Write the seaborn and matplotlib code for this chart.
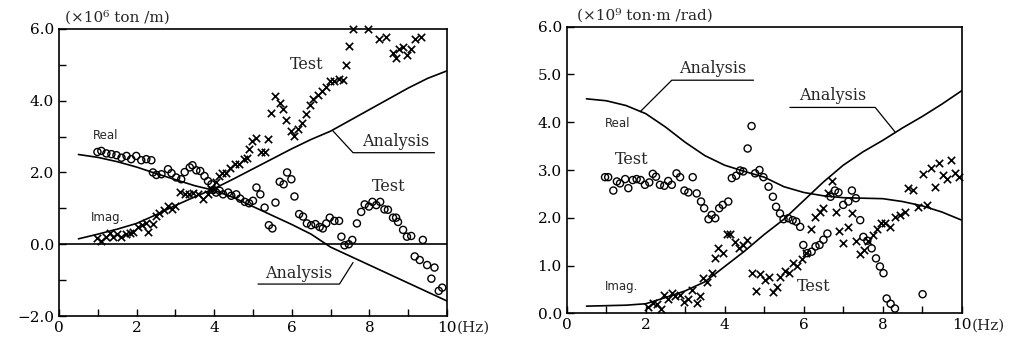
import matplotlib
matplotlib.use("Agg")
import matplotlib.pyplot as plt
import seaborn as sns

# ---------------- data: left panel (ton/m, x10^6) ----------------
ana_x = [0.5, 1.0, 1.5, 2.0, 2.5, 3.0, 3.5, 4.0, 4.5, 5.0,
         5.5, 6.0, 6.5, 7.0, 7.5, 8.0, 8.5, 9.0, 9.5, 10.0]
left_ana_real = [2.50, 2.42, 2.30, 2.15, 1.97, 1.80, 1.63, 1.50, 1.30, 1.05,
                 0.80, 0.55, 0.28, -0.08, -0.33, -0.58, -0.83, -1.08, -1.33, -1.58]
left_ana_imag = [0.15, 0.28, 0.42, 0.58, 0.82, 1.08, 1.32, 1.55, 1.82, 2.10,
                 2.38, 2.66, 2.92, 3.15, 3.45, 3.75, 4.05, 4.35, 4.62, 4.83]

left_real_x = [0.99, 1.09, 1.22, 1.35, 1.48, 1.61, 1.74, 1.86, 1.99, 2.12, 2.25, 2.38, 2.42, 2.51,
               2.64, 2.81, 2.90, 3.02, 3.15, 3.24, 3.37, 3.44, 3.54, 3.64, 3.75, 3.84, 3.93, 3.97,
               4.05, 4.14, 4.23, 4.36, 4.44, 4.57, 4.67, 4.79, 4.90, 5.00, 5.09, 5.19, 5.30, 5.41,
               5.50, 5.58, 5.69, 5.79, 5.88, 5.99, 6.07, 6.19, 6.29, 6.39, 6.50, 6.61, 6.72, 6.80,
               6.89, 6.98, 7.10, 7.22, 7.28, 7.36, 7.47, 7.56, 7.68, 7.79, 7.88, 7.99, 8.08, 8.18,
               8.28, 8.39, 8.48, 8.61, 8.69, 8.74, 8.87, 8.97, 9.08, 9.17, 9.30, 9.38, 9.49, 9.60,
               9.68, 9.79, 9.88]
left_real_y = [2.57, 2.60, 2.53, 2.51, 2.48, 2.41, 2.46, 2.37, 2.46, 2.34, 2.37, 2.34, 2.00, 1.93,
               1.95, 2.09, 1.98, 1.86, 1.81, 2.01, 2.14, 2.20, 2.06, 2.04, 1.90, 1.76, 1.67, 1.51,
               1.44, 1.49, 1.39, 1.44, 1.35, 1.39, 1.27, 1.18, 1.14, 1.21, 1.58, 1.39, 1.02, 0.53,
               0.44, 1.16, 1.74, 1.67, 2.00, 1.81, 1.33, 0.84, 0.77, 0.58, 0.53, 0.56, 0.48, 0.44,
               0.58, 0.74, 0.65, 0.65, 0.21, -0.03, 0.00, 0.12, 0.58, 0.90, 1.11, 1.05, 1.18, 1.09,
               1.18, 0.97, 0.96, 0.74, 0.74, 0.62, 0.40, 0.21, 0.23, -0.34, -0.44, 0.12, -0.58, -0.96,
               -0.65, -1.30, -1.21]

left_imag_x = [0.99, 1.09, 1.20, 1.31, 1.39, 1.49, 1.61, 1.72, 1.82, 1.91, 2.04, 2.15, 2.25, 2.29,
               2.41, 2.51, 2.59, 2.70, 2.81, 2.90, 2.98, 3.11, 3.24, 3.35, 3.45, 3.58, 3.71, 3.84,
               3.93, 4.04, 4.12, 4.21, 4.31, 4.42, 4.53, 4.64, 4.76, 4.85, 4.90, 4.98, 5.07, 5.21,
               5.30, 5.39, 5.47, 5.58, 5.69, 5.77, 5.86, 5.99, 6.07, 6.16, 6.27, 6.37, 6.48, 6.56,
               6.68, 6.79, 6.89, 6.98, 7.10, 7.22, 7.32, 7.39, 7.47, 7.58, 7.96, 8.26, 8.44, 8.61,
               8.68, 8.76, 8.87, 8.97, 9.08, 9.17, 9.34]
left_imag_y = [0.16, 0.09, 0.21, 0.30, 0.21, 0.28, 0.21, 0.28, 0.30, 0.34, 0.49, 0.54, 0.60, 0.34,
               0.56, 0.79, 0.86, 0.96, 1.07, 0.99, 1.07, 1.46, 1.39, 1.39, 1.44, 1.39, 1.25, 1.39,
               1.55, 1.74, 1.90, 1.98, 1.98, 2.11, 2.23, 2.23, 2.37, 2.41, 2.66, 2.88, 2.97, 2.57,
               2.57, 2.94, 3.67, 4.13, 3.93, 3.78, 3.46, 3.16, 3.02, 3.22, 3.39, 3.62, 3.87, 4.06,
               4.15, 4.27, 4.39, 4.55, 4.55, 4.60, 4.58, 4.99, 5.51, 5.99, 5.99, 5.73, 5.78, 5.34,
               5.20, 5.45, 5.50, 5.26, 5.45, 5.71, 5.78]

# ---------------- data: right panel (ton.m/rad, x10^9) ----------------
right_ana_real = [4.49, 4.45, 4.35, 4.18, 3.90, 3.58, 3.30, 3.10, 2.97, 2.85,
                  2.65, 2.53, 2.46, 2.42, 2.41, 2.40, 2.34, 2.25, 2.12, 1.95]
right_ana_imag = [0.15, 0.16, 0.17, 0.20, 0.33, 0.47, 0.66, 0.98, 1.30, 1.65,
                  1.97, 2.36, 2.75, 3.10, 3.38, 3.62, 3.88, 4.12, 4.38, 4.66]

right_real_x = [0.97, 1.05, 1.18, 1.27, 1.35, 1.48, 1.56, 1.67, 1.77, 1.87, 1.98, 2.09, 2.18, 2.26,
                2.36, 2.47, 2.57, 2.66, 2.78, 2.87, 2.98, 3.08, 3.19, 3.29, 3.40, 3.48, 3.59, 3.67,
                3.76, 3.86, 3.95, 4.09, 4.18, 4.29, 4.39, 4.47, 4.58, 4.68, 4.77, 4.88, 4.98, 5.11,
                5.22, 5.30, 5.40, 5.49, 5.61, 5.72, 5.81, 5.91, 5.99, 6.09, 6.20, 6.30, 6.40, 6.50,
                6.60, 6.68, 6.79, 6.88, 7.00, 7.13, 7.22, 7.32, 7.43, 7.51, 7.61, 7.72, 7.83, 7.93,
                8.02, 8.10, 8.20, 8.31, 9.01]
right_real_y = [2.85, 2.85, 2.57, 2.76, 2.72, 2.81, 2.62, 2.79, 2.81, 2.79, 2.69, 2.74, 2.92, 2.86,
                2.69, 2.67, 2.77, 2.69, 2.93, 2.85, 2.57, 2.53, 2.85, 2.51, 2.34, 2.20, 1.97, 2.06,
                1.99, 2.20, 2.27, 2.34, 2.83, 2.88, 2.99, 2.97, 3.45, 3.92, 2.93, 3.00, 2.85, 2.65,
                2.44, 2.23, 2.09, 1.97, 1.99, 1.95, 1.92, 1.81, 1.43, 1.26, 1.29, 1.40, 1.43, 1.54,
                1.67, 2.44, 2.57, 2.53, 2.27, 2.34, 2.57, 2.41, 1.95, 1.60, 1.52, 1.36, 1.15, 0.98,
                0.84, 0.31, 0.20, 0.10, 0.40]

right_imag_x = [2.07, 2.18, 2.28, 2.38, 2.46, 2.57, 2.66, 2.74, 2.87, 2.98, 3.06, 3.16, 3.29, 3.38,
                3.46, 3.56, 3.67, 3.76, 3.84, 3.95, 4.05, 4.14, 4.26, 4.37, 4.46, 4.56, 4.68, 4.79,
                4.89, 5.02, 5.13, 5.23, 5.32, 5.40, 5.53, 5.64, 5.74, 5.84, 5.95, 6.06, 6.18, 6.29,
                6.40, 6.50, 6.62, 6.71, 6.82, 6.90, 6.99, 7.11, 7.22, 7.32, 7.43, 7.53, 7.64, 7.75,
                7.85, 7.95, 8.06, 8.19, 8.31, 8.44, 8.57, 8.65, 8.76, 8.90, 9.01, 9.11, 9.22, 9.32,
                9.43, 9.52, 9.62, 9.72, 9.83, 9.94]
right_imag_y = [0.13, 0.22, 0.20, 0.10, 0.38, 0.31, 0.42, 0.36, 0.38, 0.24, 0.31, 0.49, 0.22, 0.36,
                0.73, 0.66, 0.84, 1.15, 1.36, 1.26, 1.67, 1.67, 1.50, 1.36, 1.43, 1.54, 0.84, 0.47,
                0.82, 0.70, 0.77, 0.45, 0.56, 0.75, 0.89, 0.85, 1.06, 0.98, 1.13, 1.26, 1.76, 2.01,
                2.13, 2.20, 2.51, 2.78, 2.13, 1.73, 1.47, 1.81, 2.09, 1.52, 1.24, 1.33, 1.52, 1.64,
                1.76, 1.90, 1.90, 1.80, 2.02, 2.06, 2.13, 2.62, 2.58, 2.22, 2.92, 2.27, 3.04, 2.64,
                3.14, 2.90, 2.81, 3.20, 2.93, 2.86]

left_yticks = [-2.0, 0.0, 2.0, 4.0, 6.0]
left_yticklabels = ["\u22122.0", "0.0", "2.0", "4.0", "6.0"]
right_yticks = [0.0, 1.0, 2.0, 3.0, 4.0, 5.0, 6.0]
right_yticklabels = ["0.0", "1.0", "2.0", "3.0", "4.0", "5.0", "6.0"]
xticks = [0, 2, 4, 6, 8, 10]
xticklabels = ["0", "2", "4", "6", "8", "10"]

# annotation leader lines (curve point -> end of underline)
left_lead_top = ([7.06, 7.58, 9.68], [3.16, 2.55, 2.55])
left_lead_bot = ([7.58, 7.23, 5.13], [-0.51, -1.11, -1.11])
right_lead_1 = ([1.86, 2.66, 4.73], [4.22, 4.88, 4.88])
right_lead_2 = ([8.31, 7.81, 5.65], [3.80, 4.31, 4.31])

# ---------------- style ----------------
sns.set_style("ticks")
plt.rcParams["font.family"] = ["DejaVu Serif"]
plt.rcParams["xtick.direction"] = "in"
plt.rcParams["ytick.direction"] = "in"

fig = plt.figure(figsize=(10.18, 3.41), dpi=100)
axL = fig.add_axes([0.058, 0.0733, 0.381, 0.842])
axR = fig.add_axes([0.5567, 0.0812, 0.388, 0.8405])

LW = 1.2
TICKFS = 11
SERIF = 11.5
SANS = dict(family="DejaVu Sans", fontsize=8.5)


def draw(ax, ana_real, ana_imag, rx, ry, ix, iy):
    sns.lineplot(x=ana_x, y=ana_real, ax=ax, color="black", lw=LW, legend=False)
    sns.lineplot(x=ana_x, y=ana_imag, ax=ax, color="black", lw=LW, legend=False)
    sns.scatterplot(x=rx, y=ry, ax=ax, marker="o", s=26, facecolor="none",
                    edgecolor="black", linewidth=1.0, clip_on=False, legend=False)
    sns.scatterplot(x=ix, y=iy, ax=ax, marker="x", s=28, color="black",
                    linewidth=1.2, clip_on=False, legend=False)
    ax.set_xlim(0, 10)
    ax.set_xticks(xticks)
    ax.set_xticklabels(xticklabels, fontsize=TICKFS)
    ax.set_xticks([1, 3, 5, 7, 9], minor=True)
    for s in ax.spines.values():
        s.set_linewidth(1.2)
        s.set_color("black")
    ax.tick_params(which="both", length=5, width=1.0, colors="black", top=False, right=False)
    ax.set_xlabel("")
    ax.set_ylabel("")
    ax.annotate("(Hz)", xy=(10, 0), xycoords=("data", "axes fraction"),
                xytext=(7, -3.5), textcoords="offset points", ha="left", va="top",
                fontsize=TICKFS)


# left panel
draw(axL, left_ana_real, left_ana_imag, left_real_x, left_real_y, left_imag_x, left_imag_y)
axL.axhline(0, color="black", lw=LW)
axL.set_ylim(-2, 6)
axL.set_yticks(left_yticks)
axL.set_yticklabels(left_yticklabels, fontsize=TICKFS)
axL.set_yticks([-1, 1, 3, 5], minor=True)
axL.plot(*left_lead_top, color="black", lw=0.9)
axL.plot(*left_lead_bot, color="black", lw=0.9)
axL.text(8.68, 2.62, "Analysis", ha="center", va="bottom", fontsize=SERIF)
axL.text(6.18, -1.04, "Analysis", ha="center", va="bottom", fontsize=SERIF)
axL.text(6.39, 5.01, "Test", ha="center", va="center", fontsize=SERIF)
axL.text(8.5, 1.6, "Test", ha="center", va="center", fontsize=SERIF)
axL.text(1.2, 3.02, "Real", ha="center", va="center", **SANS)
axL.text(1.26, 0.74, "Imag.", ha="center", va="center", **SANS)
axL.text(0.015, 1.015, "(\u00d710\u2076 ton /m)", transform=axL.transAxes,
         ha="left", va="bottom", fontsize=TICKFS)

# right panel
draw(axR, right_ana_real, right_ana_imag, right_real_x, right_real_y, right_imag_x, right_imag_y)
axR.set_ylim(0, 6)
axR.set_yticks(right_yticks)
axR.set_yticklabels(right_yticklabels, fontsize=TICKFS)
axR.plot(*right_lead_1, color="black", lw=0.9)
axR.plot(*right_lead_2, color="black", lw=0.9)
axR.text(3.7, 4.95, "Analysis", ha="center", va="bottom", fontsize=SERIF)
axR.text(6.73, 4.38, "Analysis", ha="center", va="bottom", fontsize=SERIF)
axR.text(1.65, 3.21, "Test", ha="center", va="center", fontsize=SERIF)
axR.text(6.24, 0.57, "Test", ha="center", va="center", fontsize=SERIF)
axR.text(1.28, 3.98, "Real", ha="center", va="center", **SANS)
axR.text(1.39, 0.56, "Imag.", ha="center", va="center", **SANS)
axR.text(0.025, 1.015, "(\u00d710\u2079 ton\u00b7m /rad)", transform=axR.transAxes,
         ha="left", va="bottom", fontsize=TICKFS)

fig.savefig("out.png", dpi=100)
